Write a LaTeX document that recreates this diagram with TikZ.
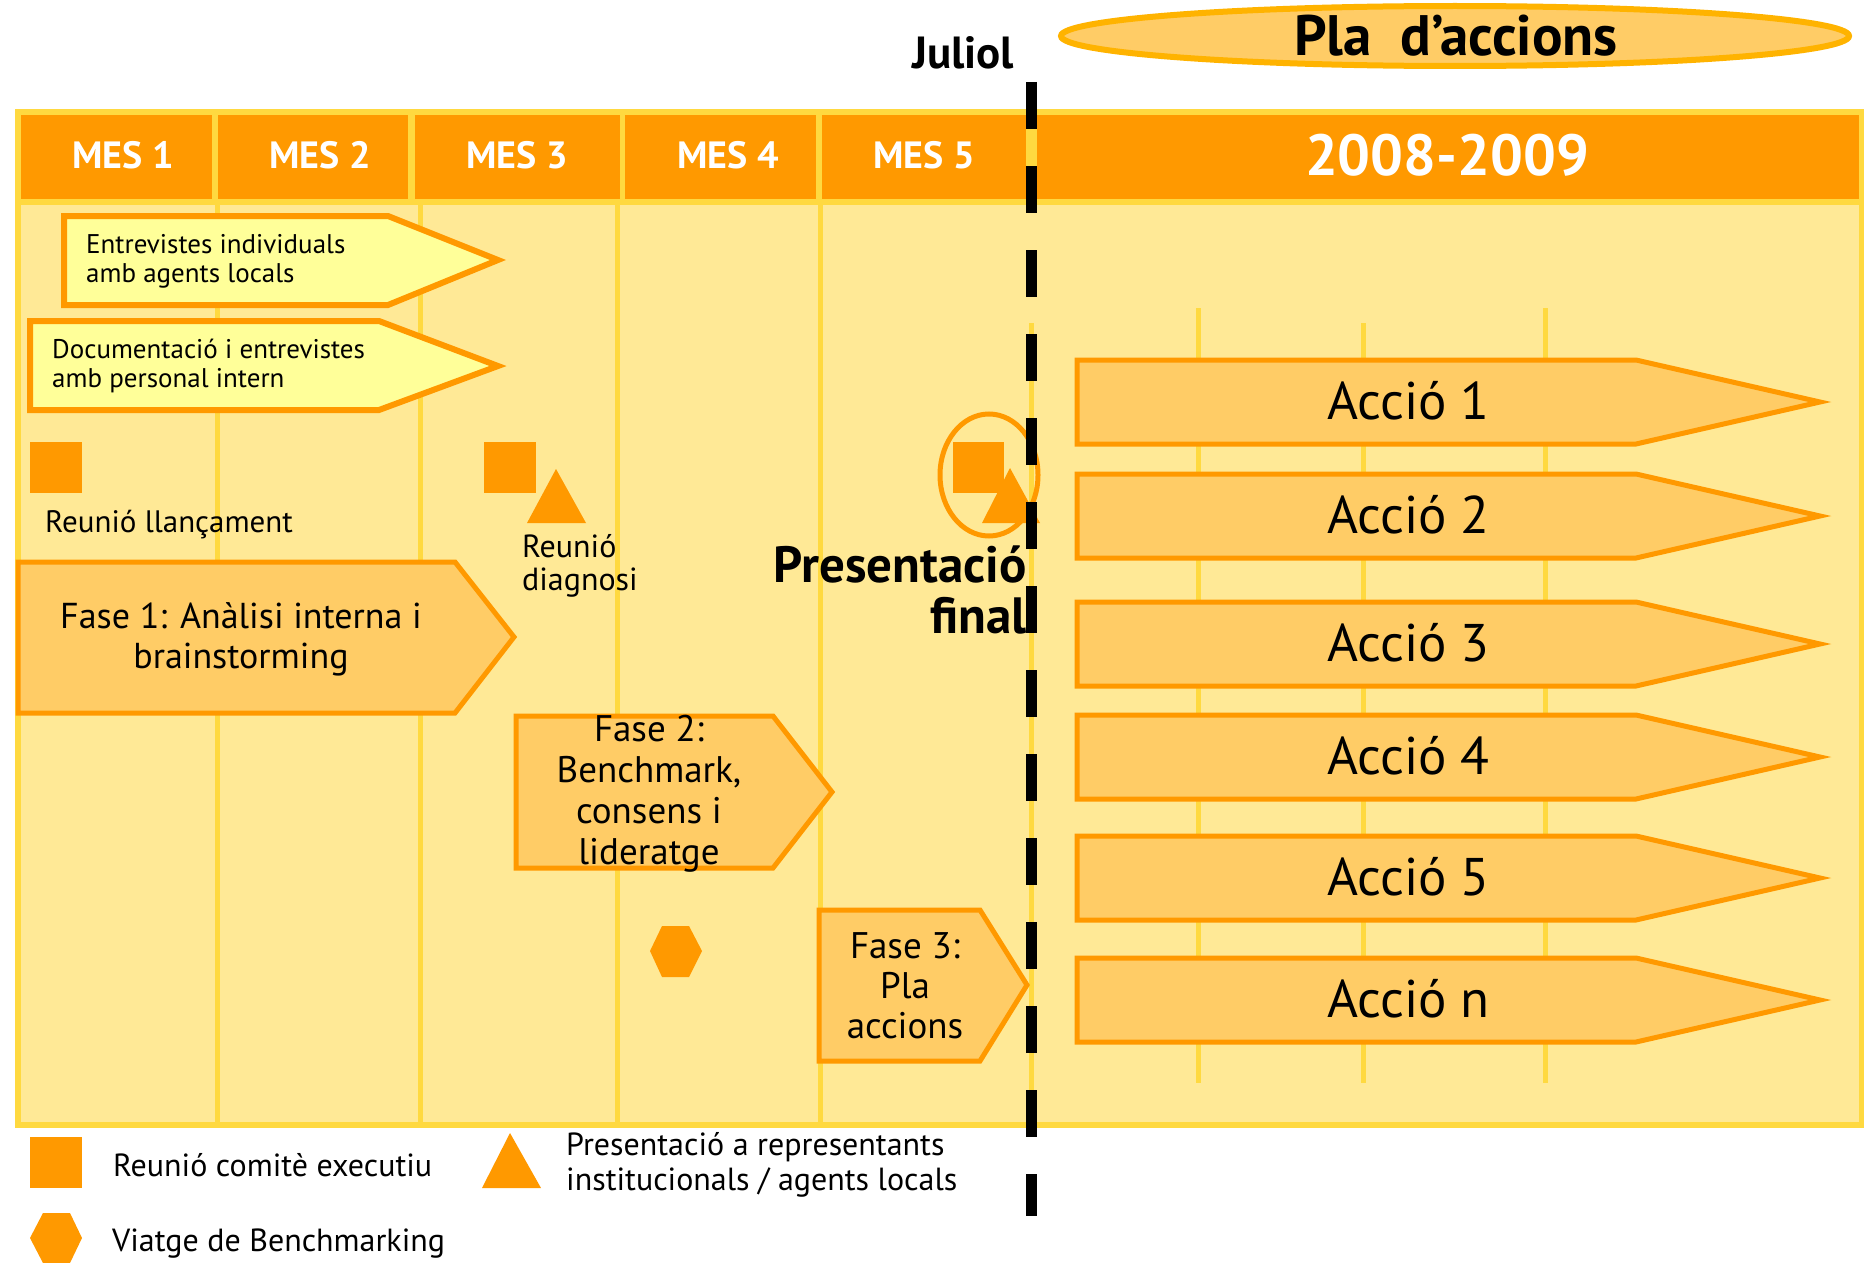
\documentclass[tikz,border=0pt]{standalone}
\usepackage{fontspec}
\setmainfont{PT Sans}
\definecolor{taronja}{HTML}{FF9900}
\definecolor{groc}{HTML}{FFD940}
\definecolor{fons}{HTML}{FFE996}
\definecolor{fasecol}{HTML}{FFCC66}
\definecolor{llimona}{HTML}{FFFF99}
\definecolor{vora}{HTML}{FFB300}
\tikzstyle{every node}=[inner sep=0pt]
\tikzstyle{mes}=[text=white,font=\bfseries\fontsize{38}{38}\selectfont]
\tikzstyle{graella}=[draw=groc,line width=5pt]
\tikzstyle{fletxa}=[draw=taronja,line width=5pt,fill=fasecol]
\tikzstyle{fletxeta}=[draw=taronja,line width=6pt,fill=llimona]
\tikzstyle{marca}=[fill=taronja]
\tikzstyle{textfase}=[align=center,font=\fontsize{37}{41}\selectfont]
\tikzstyle{textpetit}=[anchor=base west,align=left,font=\fontsize{27}{29}\selectfont]
\tikzstyle{etiqueta}=[anchor=base west,align=left,font=\fontsize{32}{35}\selectfont]

\begin{document}
\begin{tikzpicture}[x=1pt,y=-1pt]
\useasboundingbox (0,0) rectangle (1864,1263);
% marc, capcalera i fons
\fill[groc] (15,109) rectangle (1864,1128);
\fill[fons] (21,205) rectangle (1859,1122);
\foreach \a/\b/\c/\n in {21/212/123/1,218/408/320/2,415/620/517/3,625/816/728/4,822/1026/924/5}{
	\fill[taronja] (\a,115) rectangle (\b,199);
	\node[mes,anchor=base] (mes\n) at (\c,168) {MES \n};
}
\fill[taronja] (1037,115) rectangle (1859,199);
\node[mes,anchor=base,font=\bfseries\fontsize{58}{58}\selectfont] (any) at (1447,175) {2008-2009};
% linies dels mesos
\foreach \x in {217,420,617,820}
	\draw[graella] (\x,205) -- (\x,1122);
\draw[graella] (1031,323) -- (1031,1122);
\draw[graella] (1198,308) -- (1198,1083);
\draw[graella] (1363,323) -- (1363,1083);
\draw[graella] (1545,308) -- (1545,1083);
% titol
\draw[vora,fill=fasecol,line width=6pt] (1455,36) ellipse [x radius=394,y radius=30];
\node[anchor=base,font=\bfseries\fontsize{57}{57}\selectfont] (pla) at (1456,56) {Pla~~d’accions};
\node[anchor=base,font=\bfseries\fontsize{45}{45}\selectfont] (juliol) at (963,69) {Juliol};
% entrevistes
\draw[fletxeta] (64,216) -- (388,216) -- (498,260) -- (388,305) -- (64,305) -- cycle;
\node[textpetit] (entrevistes) at (86,282) {Entrevistes individuals\\amb agents locals};
\draw[fletxeta] (30,321) -- (379,321) -- (498,366) -- (379,410) -- (30,410) -- cycle;
\node[textpetit] (documentacio) at (52,387) {Documentació i entrevistes\\amb personal intern};
% reunions
\fill[marca] (30,442) rectangle (82,493);
\node[etiqueta,font=\fontsize{31}{35}\selectfont] (llancament) at (45,532) {Reunió llançament};
\fill[marca] (484,442) rectangle (536,493);
\fill[marca] (556,469) -- (586,523) -- (527,523) -- cycle;
\node[etiqueta,font=\fontsize{32}{33}\selectfont] (diagnosi) at (522,590) {Reunió\\diagnosi};
% fases
\draw[fletxa] (18,562) -- (455,562) -- (514,637) -- (455,713) -- (18,713) -- cycle;
\node[textfase,font=\fontsize{36}{40}\selectfont] (fase1) at (241,639) {Fase 1: Anàlisi interna i\\brainstorming};
\draw[fletxa] (516,716) -- (773,716) -- (832,792) -- (773,868) -- (516,868) -- cycle;
\node[textfase] (fase2) at (649,794) {Fase 2:\\Benchmark,\\consens i\\lideratge};
\fill[marca] (650,951) -- (662,926) -- (689,926) -- (702,951) -- (689,977) -- (662,977) -- cycle;
\draw[fletxa] (819,910) -- (980,910) -- (1027,985) -- (980,1061) -- (819,1061) -- cycle;
\node[textfase,font=\fontsize{37}{40}\selectfont] (fase3) at (905,986) {Fase 3:\\Pla\\accions};
% presentacio final
\draw[taronja,line width=5pt] (989,475) ellipse [x radius=49,y radius=61];
\fill[marca] (953,442) rectangle (1004,493);
\fill[marca] (1010,468) -- (1040,523) -- (982,523) -- cycle;
\node[anchor=base east,align=right,font=\bfseries\fontsize{51}{51}\selectfont] (presentacio) at (1027,633) {Presentació\\final};
% accions
\foreach \y/\t in {402/1,516/2,644/3,757/4,878/5,1000/n}{
	\draw[fletxa] (1077,\y-42) -- (1636,\y-42) -- (1820,\y) -- (1636,\y+42) -- (1077,\y+42) -- cycle;
	\node[anchor=base west,font=\fontsize{53}{53}\selectfont] (accio\t) at (1327,\y+17) {Acció \t};
}
% juliol
\draw[line width=11pt,dash pattern=on 47pt off 37pt] (1031,82) -- (1031,1216);
% llegenda
\fill[marca] (30,1137) rectangle (82,1188);
\node[etiqueta] (comite) at (113,1176) {Reunió comitè executiu};
\fill[marca] (510,1133) -- (541,1188) -- (482,1188) -- cycle;
\node[etiqueta] (representants) at (566,1190) {Presentació a representants\\institucionals / agents locals};
\fill[marca] (30,1238) -- (43,1213) -- (70,1213) -- (82,1238) -- (70,1263) -- (43,1263) -- cycle;
\node[etiqueta] (viatge) at (112,1251) {Viatge de Benchmarking};
\end{tikzpicture}
\end{document}
